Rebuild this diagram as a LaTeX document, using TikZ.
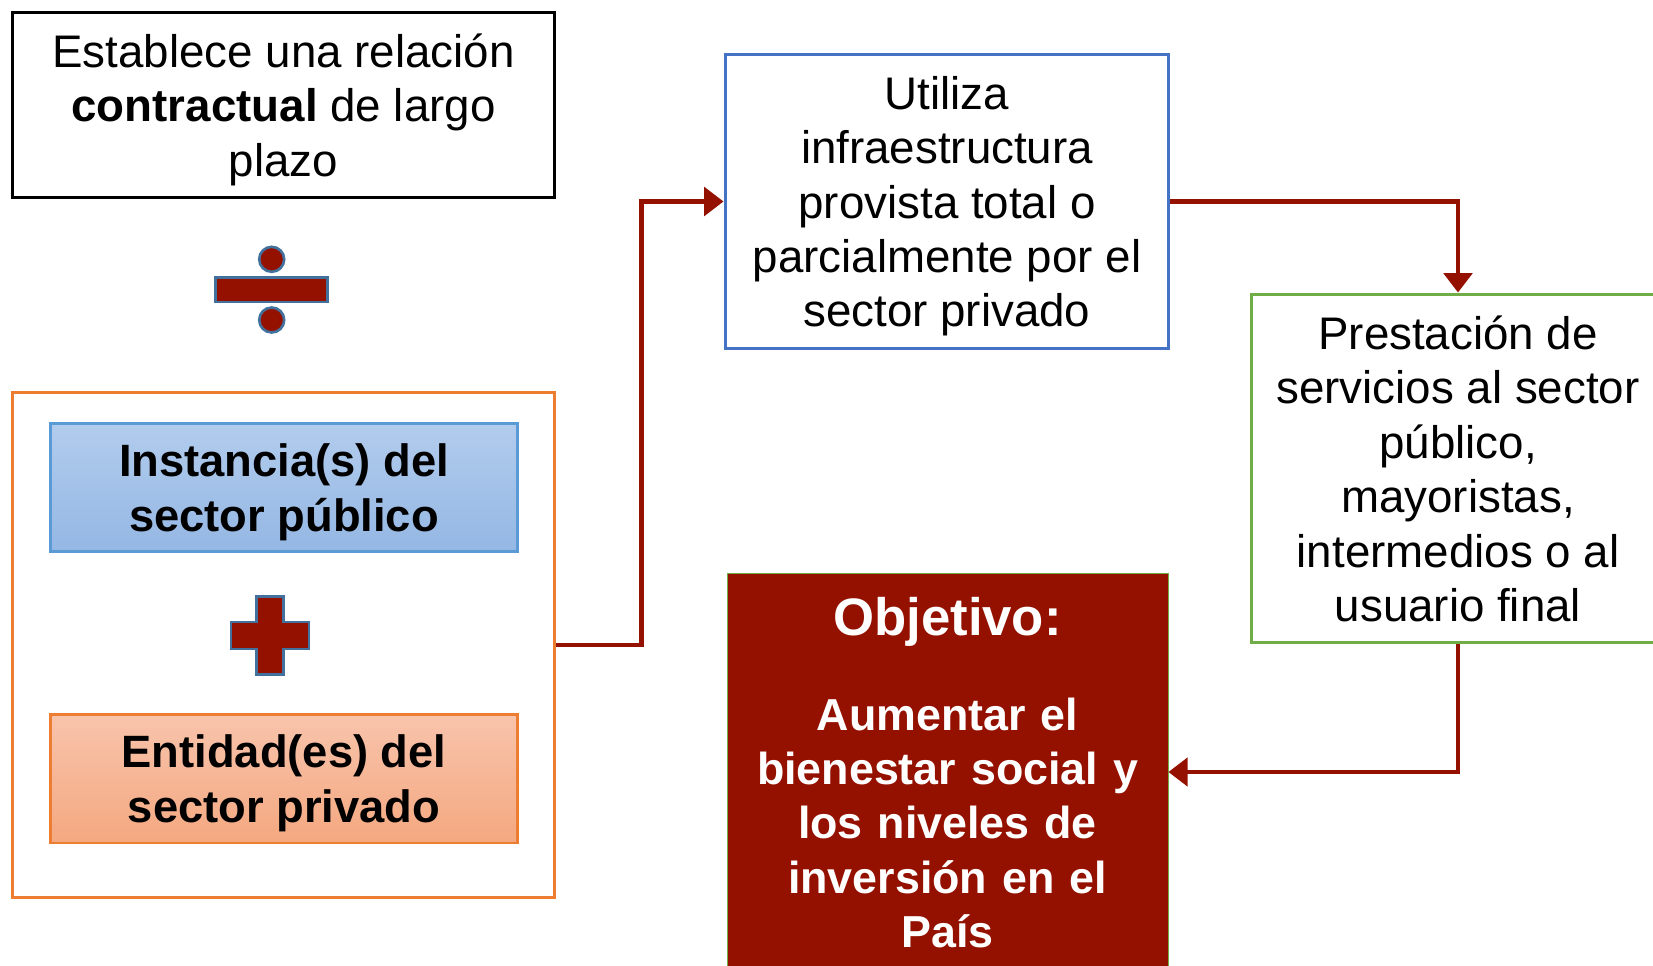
\documentclass[tikz,border=0pt]{standalone}
\usepackage{fontspec}
\setmainfont{Liberation Sans}
\usetikzlibrary{arrows.meta,calc,positioning}
\definecolor{rojoppp}{RGB}{148,17,0}
\definecolor{azulsimb}{RGB}{65,113,156}
\definecolor{azulcaja}{RGB}{68,114,196}
\definecolor{verdecaja}{RGB}{112,173,71}
\definecolor{naranjacaja}{RGB}{237,125,49}
\definecolor{azulpub}{RGB}{91,155,213}

\begin{document}
\begin{tikzpicture}
   		[x=0.02cm,y=-0.02cm,
   		caja/.style={draw,line width=1.7pt,align=center,inner sep=0pt,text depth=0pt,
   			font=\fontsize{26}{31}\selectfont},
   		negrita/.style={font=\bfseries\fontsize{25.8}{31}\selectfont},
   		simbolo/.style={fill=rojoppp,draw=azulsimb,line width=1.5pt},
   		flecha/.style={draw=rojoppp,line width=2.8pt,line join=miter,
   			-{Triangle[width=16pt,length=11pt]}}]
   		\useasboundingbox (0,0) rectangle (1653,966);
   		\node[caja,minimum width=10.84cm,minimum height=3.69cm] (contrato) at (283.5,104.8)
   		{Establece una relación\\ \textbf{contractual} de largo\\ plazo};
   		\node[caja,draw=naranjacaja,minimum width=10.84cm,minimum height=10.12cm] (socios) at (283.5,645) {};
   		\node[caja,negrita,draw=azulpub,top color={rgb,255:red,178;green,204;blue,237},
   			bottom color={rgb,255:red,148;green,183;blue,228},
   			minimum width=9.34cm,minimum height=2.58cm] (publico) at (284,487.5)
   		{Instancia(s) del\\ sector público};
   		\node[caja,negrita,draw=naranjacaja,top color={rgb,255:red,248;green,196;blue,172},
   			bottom color={rgb,255:red,244;green,168;blue,128},
   			minimum width=9.34cm,minimum height=2.58cm] (privado) at (284,778.5)
   		{Entidad(es) del\\ sector privado};
   		\node[caja,draw=azulcaja,minimum width=8.88cm,minimum height=5.9cm] (infra) at (947,201.5)
   		{Utiliza\\ infraestructura\\ provista total o\\ parcialmente por el\\ sector privado};
   		\node[caja,draw=verdecaja,minimum width=8.26cm,minimum height=6.98cm] (servicios) at (1458,468.5)
   		{Prestación de\\ servicios al sector\\ público,\\ mayoristas,\\ intermedios o al\\ usuario final};
   		\node[caja,negrita,fill=rojoppp,draw=verdecaja,line width=0.5pt,text=white,
   			anchor=north,text width=8.82cm,text height=35.7pt,text depth=250pt,
   			font=\bfseries\fontsize{25.5}{30.8}\selectfont] (objetivo) at (947.5,572.7)
   		{{\fontsize{30}{30.8}\selectfont Objetivo:}\\[23.2pt] Aumentar el\\ bienestar social y\\
   			los niveles de\\ inversión en el\\ País};
   		% division y suma
   		\draw[simbolo] (215.6,277.3) rectangle (327.4,302);
   		\foreach \y in {259.3,320}
   			\draw[simbolo] (271.7,\y) circle (0.25cm);
   		\draw[simbolo] (256.5,596.5) -- (283.5,596.5) -- (283.5,622) -- (309,622) -- (309,649)
   			-- (283.5,649) -- (283.5,674.5) -- (256.5,674.5) -- (256.5,649) -- (231,649)
   			-- (231,622) -- (256.5,622) -- cycle;
   		% conectores
   		\coordinate (giro) at (1458,772);
   		\draw[flecha] (socios.east) -- ++(85.5,0) |- (infra.west);
   		\draw[flecha] (infra.east) -| (servicios.north);
   		\draw[flecha] (servicios.south) |- (objetivo.east |- giro);
   		\end{tikzpicture}
\end{document}
